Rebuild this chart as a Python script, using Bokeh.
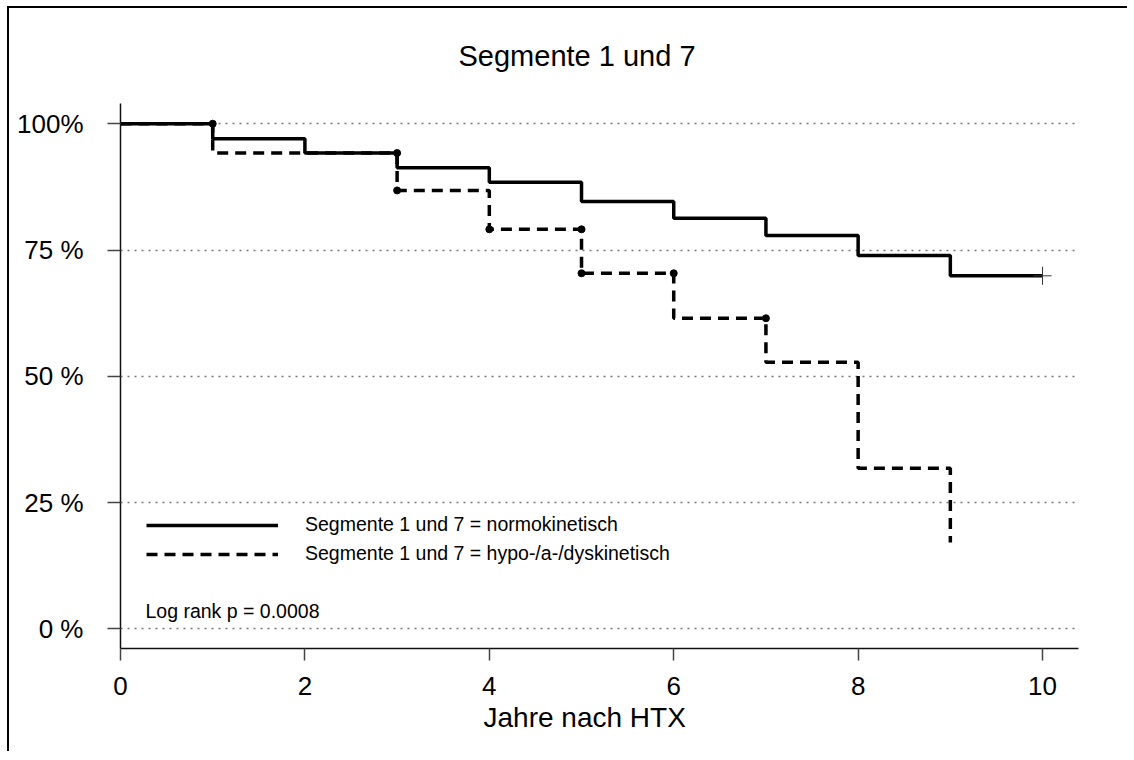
from bokeh.plotting import figure
from bokeh.models import Range1d, FixedTicker, Label, Legend, LegendItem, Title
from bokeh.embed import file_html
from bokeh.resources import INLINE

# ---- data ----
title_text = "Segmente 1 und 7"
x_label = "Jahre nach HTX"
series_names = ["Segmente 1 und 7 = normokinetisch",
                "Segmente 1 und 7 = hypo-/a-/dyskinetisch"]

normo_years = [0, 1, 2, 3, 4, 5, 6, 7, 8, 9, 10]
normo_surv = [100, 97.0, 94.2, 91.3, 88.4, 84.6, 81.3, 77.9, 73.9, 69.9, 69.9]
normo_censor_year = [10]
normo_censor_surv = [69.9]

hypo_years = [0, 1, 3, 4, 5, 6, 7, 8, 9]
hypo_surv = [100, 94.2, 86.8, 79.1, 70.4, 61.5, 52.8, 31.8, 17.1]
hypo_dot_years = [1, 3, 3, 4, 5, 5, 6, 7]
hypo_dot_surv = [100, 94.2, 86.8, 79.1, 79.1, 70.4, 70.4, 61.5]

x_ticks = [0, 2, 4, 6, 8, 10]
y_ticks = [0, 25, 50, 75, 100]
y_tick_labels = ["0 %", "25 %", "50 %", "75 %", "100%"]
logrank_text = "Log rank p = 0.0008"

FONT = "Liberation Sans"

p = figure(width=1120, height=745,
           x_range=Range1d(0, 10.39), y_range=Range1d(-3.86, 104.0),
           output_backend="svg", toolbar_location=None,
           min_border_left=111, min_border_right=51,
           min_border_top=95, min_border_bottom=105)
p.styles = {"border-left": "2px solid black", "border-top": "2px solid black",
            "margin-left": "7px", "margin-top": "6px"}
p.outline_line_color = None
p.background_fill_color = "white"
p.border_fill_color = "white"

# axes
p.xaxis.ticker = FixedTicker(ticks=x_ticks)
p.yaxis.ticker = FixedTicker(ticks=y_ticks)
p.yaxis.major_label_overrides = {t: l for t, l in zip(y_ticks, y_tick_labels)}
for ax in (p.xaxis[0], p.yaxis[0]):
    ax.axis_line_color = "#111111"
    ax.axis_line_width = 1.5
    ax.major_tick_line_color = "#444444"
    ax.major_tick_line_width = 1.5
    ax.major_tick_in = 0
    ax.minor_tick_line_color = None
    ax.major_label_text_font = FONT
    ax.major_label_text_color = "black"
    ax.major_label_text_font_size = "26px"
p.xaxis.major_tick_out = 12
p.xaxis.major_label_standoff = 16
p.yaxis.major_tick_out = 13
p.yaxis.major_label_standoff = 24

p.xgrid.visible = False
p.ygrid.grid_line_color = "#777777"
p.ygrid.grid_line_dash = "2 5"
p.ygrid.grid_line_width = 1.5

# curves
r_hypo = p.step(hypo_years, hypo_surv, mode="after", line_color="black",
                line_width=3.5, line_dash="11 7")
p.scatter(hypo_dot_years, hypo_dot_surv, size=7, color="black")
r_normo = p.step(normo_years, normo_surv, mode="after", line_color="black",
                 line_width=3.5)
p.scatter(normo_censor_year, normo_censor_surv, marker="cross", size=18,
          line_color="#333333", line_width=1)

legend = Legend(items=[LegendItem(label=series_names[0], renderers=[r_normo]),
                       LegendItem(label=series_names[1], renderers=[r_hypo])],
                location=(26, 83), glyph_width=132, glyph_height=20,
                label_standoff=27, spacing=6, padding=0, margin=0,
                background_fill_alpha=0, border_line_color=None,
                label_text_font=FONT, label_text_font_size="19.5px",
                label_text_color="black")
p.add_layout(legend)

p.add_layout(Title(text=title_text, align="left", offset=338, standoff=60,
                   vertical_align="top",
                   text_font=FONT, text_font_size="29px",
                   text_font_style="normal", text_color="black"), "above")
p.add_layout(Title(text=x_label, align="left", offset=363, standoff=4,
                   text_font=FONT, text_font_size="28px",
                   text_font_style="normal", text_color="black"), "below")
p.add_layout(Label(x=0.271, y=3.66, text=logrank_text, text_align="left",
                   text_baseline="middle", text_font=FONT,
                   text_font_size="19.5px", text_color="black"))

open("out.html", "w").write(file_html(p, INLINE))
